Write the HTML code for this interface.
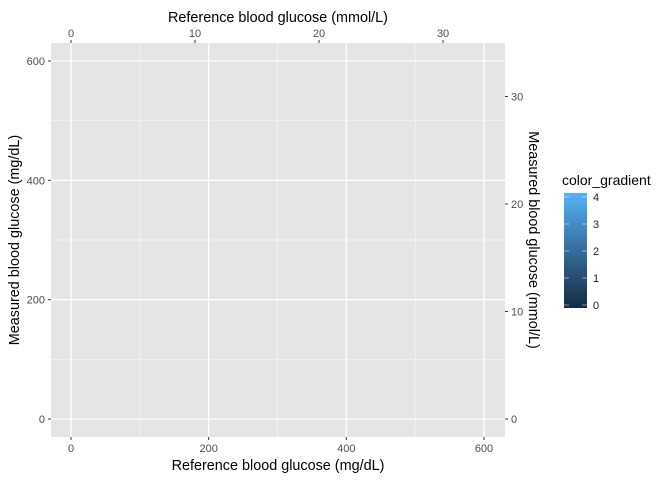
<!DOCTYPE html>
<html><head><meta charset="utf-8"><style>
body{margin:0;background:#fff;font-family:"Liberation Sans",sans-serif}
</style></head><body>
<svg width="672" height="480" xmlns="http://www.w3.org/2000/svg" font-family="Liberation Sans, sans-serif">
<defs><linearGradient id="g" x1="0" y1="1" x2="0" y2="0"><stop offset="0" stop-color="#132B43"/><stop offset="1" stop-color="#56B1F7"/></linearGradient></defs>
<rect x="51" y="43" width="454" height="394" fill="#e5e5e5"/>
<g id="grid"></g><g id="axes"></g>
<text x="278" y="22" text-anchor="middle" font-size="14.4">Reference blood glucose (mmol/L)</text>
<text x="278" y="470" text-anchor="middle" font-size="14.4">Reference blood glucose (mg/dL)</text>
<text transform="translate(19,240) rotate(-90)" text-anchor="middle" font-size="14.4">Measured blood glucose (mg/dL)</text>
<text transform="translate(529,240) rotate(90)" text-anchor="middle" font-size="14.4">Measured blood glucose (mmol/L)</text>
<g>
<text x="562" y="185" font-size="14">color_gradient</text>
<rect x="564" y="193" width="23" height="115" fill="url(#g)"/>
<g id="leg"></g>
</g>
</svg>
<script>
const xTicks=[0,200,400,600];
const xMinor=[100,300,500];
const yTicks=[0,200,400,600];
const yMinor=[100,300,500];
const mmolTicks=[0,10,20,30];
const legTicks=[0,1,2,3,4];
const F=18.018;
const sx=v=>71+v*(413/600);
const sy=v=>419-v*(358/600);
const ns="http://www.w3.org/2000/svg";
function mk(p,t,a,txt){const e=document.createElementNS(ns,t);for(const k in a)e.setAttribute(k,a[k]);if(txt!==undefined)e.textContent=txt;document.getElementById(p).appendChild(e);return e;}
xMinor.forEach(v=>{const e=mk('grid','line',{x1:sx(v),x2:sx(v),y1:43,y2:437,stroke:'#f2f2f2','stroke-width':1});

});
yMinor.forEach(v=>{const e=mk('grid','line',{x1:51,x2:505,y1:sy(v),y2:sy(v),stroke:'#f2f2f2','stroke-width':1});

});
xTicks.forEach(v=>{const e=mk('grid','line',{x1:sx(v),x2:sx(v),y1:43,y2:437,stroke:'#fff','stroke-width':1.3});


mk('axes','line',{x1:sx(v),x2:sx(v),y1:437,y2:440,stroke:'#333'});
const t=mk('axes','text',{x:sx(v),y:452,'text-anchor':'middle','font-size':11,fill:'#4d4d4d'},v);

});
yTicks.forEach(v=>{const e=mk('grid','line',{x1:51,x2:505,y1:sy(v),y2:sy(v),stroke:'#fff','stroke-width':1.3});


mk('axes','line',{x1:48,x2:51,y1:sy(v),y2:sy(v),stroke:'#333'});
const t=mk('axes','text',{x:45,y:sy(v)+4,'text-anchor':'end','font-size':11,fill:'#4d4d4d'},v);

});
mmolTicks.forEach(v=>{const x=sx(v*F),y=sy(v*F);
mk('axes','line',{x1:x,x2:x,y1:40,y2:43,stroke:'#333'});
const t=mk('axes','text',{x:x,y:37,'text-anchor':'middle','font-size':11,fill:'#4d4d4d'},v);


mk('axes','line',{x1:505,x2:508,y1:y,y2:y,stroke:'#333'});
const r=mk('axes','text',{x:511,y:y+4,'font-size':11,fill:'#4d4d4d'},v);

});
legTicks.forEach(v=>{const y=305-v*27;
mk('leg','line',{x1:564,x2:569,y1:y,y2:y,stroke:'#fff','stroke-width':0.8,opacity:0.6});
mk('leg','line',{x1:582,x2:587,y1:y,y2:y,stroke:'#fff','stroke-width':0.8,opacity:0.6});
const t=mk('leg','text',{x:593,y:y+4,'font-size':11,fill:'#222'},v);

});
</script>
</body></html>
